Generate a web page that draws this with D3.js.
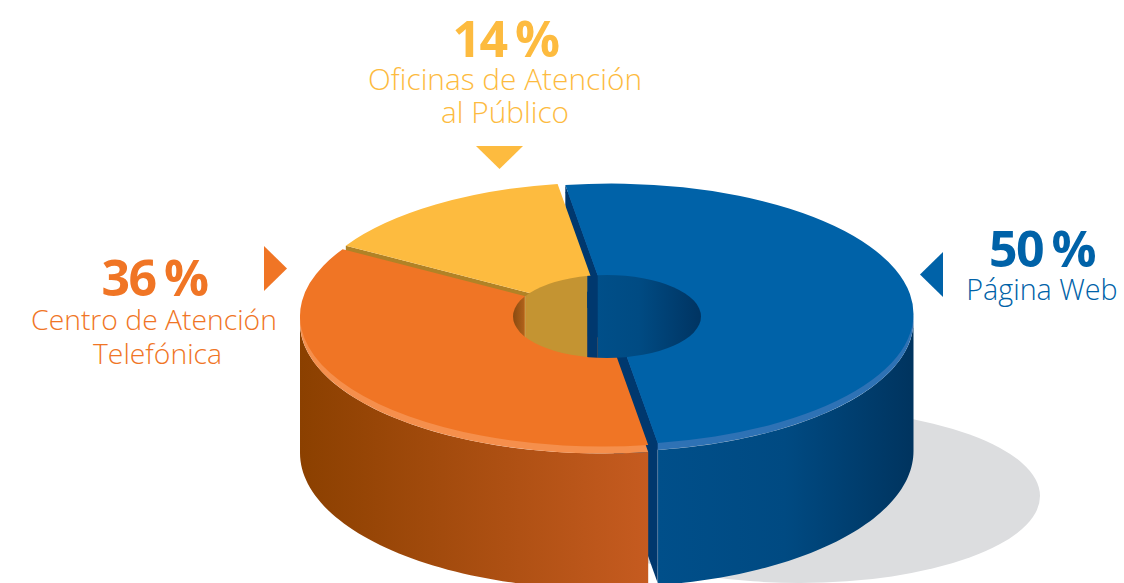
<!DOCTYPE html>
<html><head><meta charset="utf-8">
<script src="https://cdn.jsdelivr.net/npm/d3@7"></script>
<style>html,body{margin:0;background:#fff;overflow:hidden}svg{display:block}</style>
</head><body><svg id="c" width="1124" height="583"></svg>
<script>
const categories = ["Página Web", "Centro de Atención Telefónica", "Oficinas de Atención al Público"];
const values = [50, 36, 14];
const percentLabels = ["50 %", "36 %", "14 %"];
const labelLines = [["Página Web"], ["Centro de Atención", "Telefónica"], ["Oficinas de Atención", "al Público"]];
const topColors = ["#0062A8", "#F07525", "#FDBB3F"];
const rimColors = ["#2E72B5", "#F58F4C", "#FDBB3F"];
const faceColors = ["#00386E", "#A5561A", "#B18226"];

const svg = d3.select("#c"), defs = svg.append("defs");
const k = 0.432, H = 133, RIM = 7, RH = 90, R_IN = 50, R_FACE = 15;
const radii = [302, 302, 300];
const start = -8.8 * Math.PI / 180;
const centers = [[611.5, 314], [602, 316], [603.5, 312]];
const pie = d3.pie().sort(null).startAngle(start).endAngle(start + 2 * Math.PI);
const slices = pie(values);
const arcOf = i => d3.arc().innerRadius(R_IN).outerRadius(radii[i])(slices[i]);
const pt = (i, a, r, dy = 0) => [centers[i][0] + r * Math.sin(a), centers[i][1] - r * k * Math.cos(a) + dy];

function gradient(id, x1, x2, stops) {
  const g = defs.append("linearGradient").attr("id", id).attr("gradientUnits", "userSpaceOnUse")
    .attr("x1", x1).attr("x2", x2).attr("y1", 0).attr("y2", 0);
  stops.forEach(s => g.append("stop").attr("offset", s[0]).attr("stop-color", s[1]));
}
gradient("wallBlue", 658, 913, [[0, "#004F8A"], [0.5, "#004A82"], [1, "#00345F"]]);
gradient("wallOrange", 300, 650, [[0, "#8B4000"], [1, "#C65B20"]]);
gradient("holeBlue", 597, 701, [[0, "#004F89"], [0.4, "#004B83"], [1, "#003462"]]);
gradient("holeOrange", 513, 526, [[0, "#8A4A10"], [1, "#B5651C"]]);

// ground shadow
svg.append("ellipse").attr("cx", 800).attr("cy", 496).attr("rx", 240).attr("ry", 87).attr("fill", "#DCDDDF");

const drawTop = i => svg.append("path").attr("d", arcOf(i))
  .attr("transform", `translate(${centers[i][0]},${centers[i][1]}) scale(1,${k})`).attr("fill", topColors[i]);
const drawRim = i => svg.append("path").attr("d", arcOf(i))
  .attr("transform", `translate(${centers[i][0]},${centers[i][1] + RIM}) scale(1,${k})`).attr("fill", rimColors[i]);

function wall(i, a0, a1, fill) {
  const as = d3.range(0, 61).map(t => a0 + (a1 - a0) * t / 60);
  const upper = as.map(a => pt(i, a, radii[i], RIM));
  const lower = as.slice().reverse().map(a => {
    const p = pt(i, a, radii[i], 0);
    return [p[0], centers[i][1] + RIM + H - 3 - 1.04 * radii[i] * k * Math.cos(a)];
  });
  svg.append("path").attr("d", d3.line()(upper.concat(lower)) + "Z").attr("fill", fill);
}
function face(i, a) {
  const r = radii[i];
  const p = [pt(i, a, r), pt(i, a, R_FACE), pt(i, a, R_FACE, H + RIM), pt(i, a, r, H + RIM)];
  svg.append("path").attr("d", d3.line()(p) + "Z").attr("fill", faceColors[i]);
}

// blue slice
wall(0, Math.PI / 2, slices[0].endAngle, "url(#wallBlue)");
drawRim(0);
face(0, slices[0].startAngle);
face(0, slices[0].endAngle);
drawTop(0);
// yellow slice
face(2, slices[2].startAngle);
drawTop(2);
// orange slice
wall(1, 3 * Math.PI / 2, slices[1].startAngle, "url(#wallOrange)");
drawRim(1);
drawTop(1);

// thin highlight where the blue cut face meets the outer wall
const blueEdge = pt(0, slices[0].endAngle, radii[0], RIM);
svg.append("line").attr("x1", blueEdge[0]).attr("x2", blueEdge[0])
  .attr("y1", blueEdge[1]).attr("y2", blueEdge[1] + H)
  .attr("stroke", "#fff").attr("stroke-opacity", 0.18);

// centre hole with inner walls
const hole = { cx: 607, cy: 316.5, rx: 94, ry: 41.5 };
defs.append("clipPath").attr("id", "holeClip").append("ellipse")
  .attr("cx", hole.cx).attr("cy", hole.cy).attr("rx", hole.rx).attr("ry", hole.ry);
const hg = svg.append("g").attr("clip-path", "url(#holeClip)");
const x0 = hole.cx - hole.rx, x1 = hole.cx + hole.rx;
const xOrange = pt(1, slices[1].endAngle, RH)[0];
const xYellow = pt(2, slices[2].startAngle, RH)[0];
const xYellowEnd = pt(2, slices[2].endAngle, RH)[0] - 2.5;
const xBlue = pt(0, slices[0].startAngle, RH)[0];
const bands = [
  [x0, xOrange, "url(#holeOrange)"],
  [xOrange, xYellow, "#C49A45"],
  [xYellow, xYellowEnd, "#C49432"],
  [xYellowEnd, xBlue, "#00386E"],
  [xBlue, x1, "url(#holeBlue)"]
];
hg.selectAll("rect").data(bands).join("rect")
  .attr("x", d => d[0]).attr("width", d => d[1] - d[0])
  .attr("y", hole.cy - hole.ry).attr("height", 2 * hole.ry).attr("fill", d => d[2]);

// pointers
const pointers = [
  [[943, 252], [920, 274.5], [943, 297]],
  [[264, 246], [287, 268.5], [264, 291]],
  [[476, 146], [523, 146], [499.5, 169]]
];
svg.selectAll("path.ptr").data(pointers).join("path").attr("class", "ptr")
  .attr("d", d => d3.line()(d) + "Z").attr("fill", (d, i) => topColors[i]);

// labels
const pctPos = [[1042, 267], [154.5, 296], [505.5, 56.5]];
const linePos = [[[1042, 300]], [[154, 330], [157.5, 364]], [[505, 90], [505, 123]]];
const lineSizes = [28.7, 28.3, 29.8];
percentLabels.forEach((t, i) => {
  svg.append("text").text(t).attr("x", pctPos[i][0]).attr("y", pctPos[i][1])
    .attr("text-anchor", "middle").attr("fill", topColors[i])
    .attr("font-family", "'Open Sans'").attr("font-weight", 700).attr("font-size", 50)
    .attr("letter-spacing", -1.5).attr("word-spacing", -3);
  labelLines[i].forEach((l, j) => svg.append("text").text(l)
    .attr("x", linePos[i][j][0]).attr("y", linePos[i][j][1])
    .attr("text-anchor", "middle").attr("fill", topColors[i])
    .attr("font-family", "'Open Sans'").attr("font-weight", 300).attr("font-size", lineSizes[i]));
});
</script></body></html>
